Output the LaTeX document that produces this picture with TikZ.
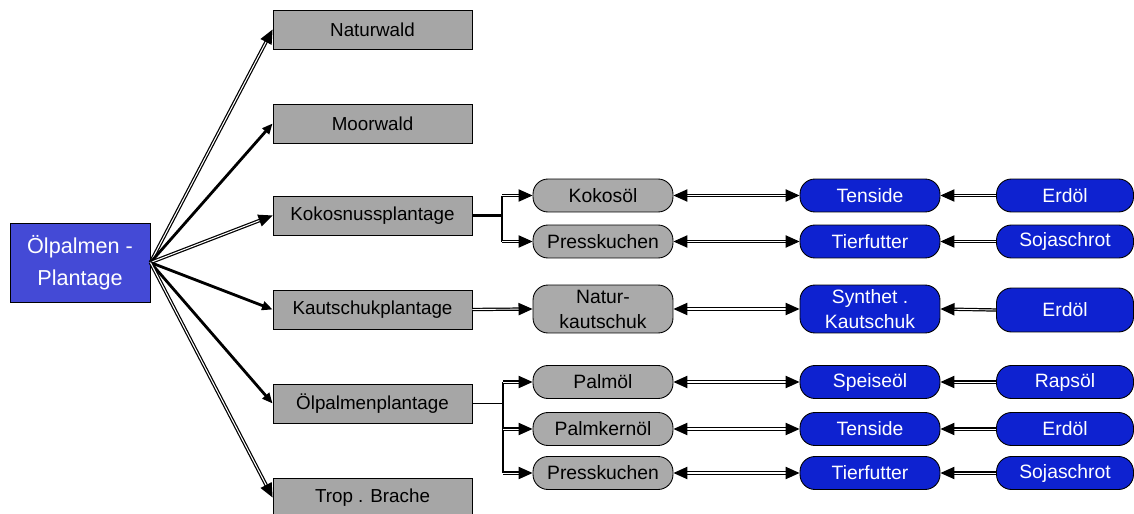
\documentclass[tikz,border=0pt]{standalone}
\usepackage{fontspec}
\setmainfont{Liberation Sans}
\usetikzlibrary{arrows.meta}
\definecolor{boxgray}{RGB}{166,166,166}
\definecolor{ovgray}{RGB}{170,170,170}
\definecolor{rootblue}{RGB}{68,74,214}
\definecolor{ovblue}{RGB}{14,34,208}
\begin{document}
\begin{tikzpicture}[x=0.02cm,y=-0.02cm]
\tikzset{
 rootbox/.style={draw=black, line width=0.5pt, fill=rootblue, text=white, minimum width=2.8cm, minimum height=1.58cm, inner sep=0pt, align=center, font=\fontsize{12.3}{18}\selectfont},
 gbox/.style={draw=black, line width=0.5pt, fill=boxgray, minimum width=3.98cm, minimum height=0.78cm, inner sep=0pt, font=\fontsize{10.7}{13}\selectfont},
 lev/.style={draw=black, line width=0.5pt, rounded corners=0.3cm, minimum width=2.8cm, minimum height=0.66cm, inner sep=0pt, align=center, font=\fontsize{11}{14}\selectfont},
 gov/.style={lev, fill=ovgray, text=black},
 bov/.style={lev, fill=ovblue, text=white},
 tip/.style={},
 fan/.style={draw=black, line width=0.7pt, double=white, double distance=0.6pt, -{Triangle[length=8pt,width=7pt]}},
 fansolid/.style={draw=black, line width=1.6pt, -{Triangle[length=6pt,width=5pt]}},
 twoway/.style={draw=black, line width=0.8pt, double=white, double distance=0.6pt, {Triangle[length=8pt,width=7pt]}-{Triangle[length=8pt,width=7pt]}},
 oneway/.style={draw=black, line width=0.7pt, double=white, double distance=0.5pt, -{Triangle[length=8pt,width=7pt]}},
 branch/.style={draw=black, line width=1.6pt},
}
\clip (0,0) rectangle (1134,514);
\fill[white] (0,0) rectangle (1134,514);

\node[rootbox] (root) at (80,262.5) {Ölpalmen -\\Plantage};

\node[gbox] (nw) at (372.5,29.5) {Naturwald};
\node[gbox] (mw) at (372.5,123.5) {Moorwald};
\node[gbox] (kp) at (372.5,215.5) {Kokosnussplantage};
\node[gbox] (ks) at (372.5,309.5) {Kautschukplantage};
\node[gbox] (op) at (372.5,403.5) {Ölpalmenplantage};
\node[gbox] (tb) at (372.5,497.5) {Trop . Brache};

\draw[fan] (root.east) -- (nw.west);
\draw[fansolid] (root.east) -- (mw.west);
\draw[fan] (root.east) -- (kp.west);
\draw[fansolid] (root.east) -- (ks.west);
\draw[fansolid] (root.east) -- (op.west);
\draw[fan] (root.east) -- (tb.west);

% level 2 grey
\node[gov] (g1) at (603,195.5) {Kokosöl};
\node[gov] (g2) at (603,241.5) {Presskuchen};
\node[gov, minimum height=0.96cm, font=\fontsize{11}{14.2}\selectfont] (g3) at (603,309) {Natur-\\kautschuk};
\node[gov] (g4) at (603,382) {Palmöl};
\node[gov] (g5) at (603,429) {Palmkernöl};
\node[gov] (g6) at (603,473) {Presskuchen};

% level 3 blue
\node[bov] (b1) at (870,195.5) {Tenside};
\node[bov] (b2) at (870,241.5) {Tierfutter};
\node[bov, minimum height=0.96cm, font=\fontsize{11}{14.2}\selectfont] (b3) at (870,309) {Synthet .\\Kautschuk};
\node[bov] (b4) at (870,382) {Speiseöl};
\node[bov] (b5) at (870,429) {Tenside};
\node[bov] (b6) at (870,473) {Tierfutter};

% level 4 blue
\node[bov, minimum width=2.74cm] (r1) at (1065,195.5) {Erdöl};
\node[bov, minimum width=2.74cm] (r2) at (1065,241.5) {Sojaschrot};
\node[bov, minimum width=2.74cm, minimum height=0.88cm] (r3) at (1065,310) {Erdöl};
\node[bov, minimum width=2.74cm] (r4) at (1065,382) {Rapsöl};
\node[bov, minimum width=2.74cm] (r5) at (1065,429) {Erdöl};
\node[bov, minimum width=2.74cm] (r6) at (1065,473) {Sojaschrot};

% branches
\coordinate (kb) at (502,215.5);
\draw[branch] (kp.east) -- (kb);
\draw[branch] (kb |- g1.west) -- (kb |- g2.west);
\draw[oneway] (kb |- g1.west) -- (g1.west);
\draw[oneway] (kb |- g2.west) -- (g2.west);

\draw[oneway] (ks.east) -- (g3.west);

\coordinate (ob) at (503,403.5);
\draw[draw=black, line width=1.1pt] (op.east) -- (ob);
\draw[draw=black, line width=1.1pt] (ob |- g4.west) -- (ob |- g6.west);
\draw[oneway] (ob |- g4.west) -- (g4.west);
\draw[oneway] (ob |- g5.west) -- (g5.west);
\draw[oneway] (ob |- g6.west) -- (g6.west);

% two-way
\draw[twoway] (g1.east) -- (b1.west);
\draw[twoway] (g2.east) -- (b2.west);
\draw[twoway] (g3.east) -- (b3.west);
\draw[twoway] (g4.east) -- (b4.west);
\draw[twoway] (g5.east) -- (b5.west);
\draw[twoway] (g6.east) -- (b6.west);

% substitutes
\draw[oneway] (r1.west) -- (b1.east);
\draw[oneway] (r2.west) -- (b2.east);
\draw[oneway] (r3.west) -- (b3.east);
\draw[oneway] (r4.west) -- (b4.east);
\draw[oneway] (r5.west) -- (b5.east);
\draw[oneway] (r6.west) -- (b6.east);
\end{tikzpicture}
\end{document}
